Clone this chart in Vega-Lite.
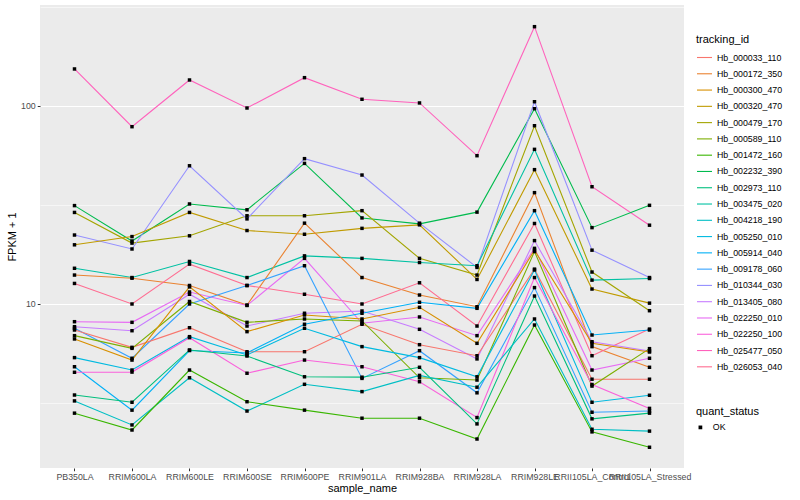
{
"$schema": "https://vega.github.io/schema/vega-lite/v6.json",
"width": 644, "height": 463,
"autosize": {"type": "none"},
"padding": {"left": 40, "top": 5, "right": 116, "bottom": 32},
"background": "white",
"config": {
  "font": "Liberation Sans",
  "view": {"fill": "#EBEBEB", "stroke": null},
  "axis": {"domain": false, "gridColor": "white", "tickColor": "#333333", "tickSize": 2.75, "labelColor": "#4D4D4D", "labelFontSize": 8.8, "titleFontSize": 11, "titleFontWeight": "normal", "titleColor": "black"},
  "legend": {"titleFontSize": 11, "titleFontWeight": "normal", "titleColor": "black", "labelFontSize": 8.8, "labelColor": "black", "padding": 0}
},
"data": {"values": [
{"tracking_id":"Hb_025477_050","sample_name":"PB350LA","FPKM":153.8,"quant_status":"OK"},
{"tracking_id":"Hb_025477_050","sample_name":"RRIM600LA","FPKM":78.6,"quant_status":"OK"},
{"tracking_id":"Hb_025477_050","sample_name":"RRIM600LE","FPKM":135.3,"quant_status":"OK"},
{"tracking_id":"Hb_025477_050","sample_name":"RRIM600SE","FPKM":97.7,"quant_status":"OK"},
{"tracking_id":"Hb_025477_050","sample_name":"RRIM600PE","FPKM":139.0,"quant_status":"OK"},
{"tracking_id":"Hb_025477_050","sample_name":"RRIM901LA","FPKM":108.1,"quant_status":"OK"},
{"tracking_id":"Hb_025477_050","sample_name":"RRIM928BA","FPKM":103.6,"quant_status":"OK"},
{"tracking_id":"Hb_025477_050","sample_name":"RRIM928LA","FPKM":56.1,"quant_status":"OK"},
{"tracking_id":"Hb_025477_050","sample_name":"RRIM928LE","FPKM":251.5,"quant_status":"OK"},
{"tracking_id":"Hb_025477_050","sample_name":"RRII105LA_Control","FPKM":39.1,"quant_status":"OK"},
{"tracking_id":"Hb_025477_050","sample_name":"RRII105LA_Stressed","FPKM":25.0,"quant_status":"OK"},
{"tracking_id":"Hb_002232_390","sample_name":"PB350LA","FPKM":31.4,"quant_status":"OK"},
{"tracking_id":"Hb_002232_390","sample_name":"RRIM600LA","FPKM":20.8,"quant_status":"OK"},
{"tracking_id":"Hb_002232_390","sample_name":"RRIM600LE","FPKM":32.0,"quant_status":"OK"},
{"tracking_id":"Hb_002232_390","sample_name":"RRIM600SE","FPKM":29.9,"quant_status":"OK"},
{"tracking_id":"Hb_002232_390","sample_name":"RRIM600PE","FPKM":51.3,"quant_status":"OK"},
{"tracking_id":"Hb_002232_390","sample_name":"RRIM901LA","FPKM":27.2,"quant_status":"OK"},
{"tracking_id":"Hb_002232_390","sample_name":"RRIM928BA","FPKM":25.4,"quant_status":"OK"},
{"tracking_id":"Hb_002232_390","sample_name":"RRIM928LA","FPKM":29.1,"quant_status":"OK"},
{"tracking_id":"Hb_002232_390","sample_name":"RRIM928LE","FPKM":96.9,"quant_status":"OK"},
{"tracking_id":"Hb_002232_390","sample_name":"RRII105LA_Control","FPKM":24.3,"quant_status":"OK"},
{"tracking_id":"Hb_002232_390","sample_name":"RRII105LA_Stressed","FPKM":31.5,"quant_status":"OK"},
{"tracking_id":"Hb_000479_170","sample_name":"PB350LA","FPKM":29.0,"quant_status":"OK"},
{"tracking_id":"Hb_000479_170","sample_name":"RRIM600LA","FPKM":20.3,"quant_status":"OK"},
{"tracking_id":"Hb_000479_170","sample_name":"RRIM600LE","FPKM":22.1,"quant_status":"OK"},
{"tracking_id":"Hb_000479_170","sample_name":"RRIM600SE","FPKM":27.9,"quant_status":"OK"},
{"tracking_id":"Hb_000479_170","sample_name":"RRIM600PE","FPKM":27.9,"quant_status":"OK"},
{"tracking_id":"Hb_000479_170","sample_name":"RRIM901LA","FPKM":29.6,"quant_status":"OK"},
{"tracking_id":"Hb_000479_170","sample_name":"RRIM928BA","FPKM":17.0,"quant_status":"OK"},
{"tracking_id":"Hb_000479_170","sample_name":"RRIM928LA","FPKM":14.0,"quant_status":"OK"},
{"tracking_id":"Hb_000479_170","sample_name":"RRIM928LE","FPKM":79.5,"quant_status":"OK"},
{"tracking_id":"Hb_000479_170","sample_name":"RRII105LA_Control","FPKM":14.5,"quant_status":"OK"},
{"tracking_id":"Hb_000479_170","sample_name":"RRII105LA_Stressed","FPKM":9.25,"quant_status":"OK"},
{"tracking_id":"Hb_010344_030","sample_name":"PB350LA","FPKM":22.3,"quant_status":"OK"},
{"tracking_id":"Hb_010344_030","sample_name":"RRIM600LA","FPKM":18.96,"quant_status":"OK"},
{"tracking_id":"Hb_010344_030","sample_name":"RRIM600LE","FPKM":49.9,"quant_status":"OK"},
{"tracking_id":"Hb_010344_030","sample_name":"RRIM600SE","FPKM":26.9,"quant_status":"OK"},
{"tracking_id":"Hb_010344_030","sample_name":"RRIM600PE","FPKM":54.2,"quant_status":"OK"},
{"tracking_id":"Hb_010344_030","sample_name":"RRIM901LA","FPKM":44.8,"quant_status":"OK"},
{"tracking_id":"Hb_010344_030","sample_name":"RRIM928BA","FPKM":25.6,"quant_status":"OK"},
{"tracking_id":"Hb_010344_030","sample_name":"RRIM928LA","FPKM":15.3,"quant_status":"OK"},
{"tracking_id":"Hb_010344_030","sample_name":"RRIM928LE","FPKM":105.1,"quant_status":"OK"},
{"tracking_id":"Hb_010344_030","sample_name":"RRII105LA_Control","FPKM":18.7,"quant_status":"OK"},
{"tracking_id":"Hb_010344_030","sample_name":"RRII105LA_Stressed","FPKM":13.6,"quant_status":"OK"},
{"tracking_id":"Hb_000320_470","sample_name":"PB350LA","FPKM":19.9,"quant_status":"OK"},
{"tracking_id":"Hb_000320_470","sample_name":"RRIM600LA","FPKM":21.9,"quant_status":"OK"},
{"tracking_id":"Hb_000320_470","sample_name":"RRIM600LE","FPKM":29.0,"quant_status":"OK"},
{"tracking_id":"Hb_000320_470","sample_name":"RRIM600SE","FPKM":23.5,"quant_status":"OK"},
{"tracking_id":"Hb_000320_470","sample_name":"RRIM600PE","FPKM":22.5,"quant_status":"OK"},
{"tracking_id":"Hb_000320_470","sample_name":"RRIM901LA","FPKM":24.1,"quant_status":"OK"},
{"tracking_id":"Hb_000320_470","sample_name":"RRIM928BA","FPKM":25.1,"quant_status":"OK"},
{"tracking_id":"Hb_000320_470","sample_name":"RRIM928LA","FPKM":13.3,"quant_status":"OK"},
{"tracking_id":"Hb_000320_470","sample_name":"RRIM928LE","FPKM":47.7,"quant_status":"OK"},
{"tracking_id":"Hb_000320_470","sample_name":"RRII105LA_Control","FPKM":11.9,"quant_status":"OK"},
{"tracking_id":"Hb_000320_470","sample_name":"RRII105LA_Stressed","FPKM":10.1,"quant_status":"OK"},
{"tracking_id":"Hb_003475_020","sample_name":"PB350LA","FPKM":15.15,"quant_status":"OK"},
{"tracking_id":"Hb_003475_020","sample_name":"RRIM600LA","FPKM":13.6,"quant_status":"OK"},
{"tracking_id":"Hb_003475_020","sample_name":"RRIM600LE","FPKM":16.4,"quant_status":"OK"},
{"tracking_id":"Hb_003475_020","sample_name":"RRIM600SE","FPKM":13.6,"quant_status":"OK"},
{"tracking_id":"Hb_003475_020","sample_name":"RRIM600PE","FPKM":17.5,"quant_status":"OK"},
{"tracking_id":"Hb_003475_020","sample_name":"RRIM901LA","FPKM":17.0,"quant_status":"OK"},
{"tracking_id":"Hb_003475_020","sample_name":"RRIM928BA","FPKM":16.2,"quant_status":"OK"},
{"tracking_id":"Hb_003475_020","sample_name":"RRIM928LA","FPKM":15.6,"quant_status":"OK"},
{"tracking_id":"Hb_003475_020","sample_name":"RRIM928LE","FPKM":60.4,"quant_status":"OK"},
{"tracking_id":"Hb_003475_020","sample_name":"RRII105LA_Control","FPKM":13.2,"quant_status":"OK"},
{"tracking_id":"Hb_003475_020","sample_name":"RRII105LA_Stressed","FPKM":13.45,"quant_status":"OK"},
{"tracking_id":"Hb_000172_350","sample_name":"PB350LA","FPKM":14.0,"quant_status":"OK"},
{"tracking_id":"Hb_000172_350","sample_name":"RRIM600LA","FPKM":13.5,"quant_status":"OK"},
{"tracking_id":"Hb_000172_350","sample_name":"RRIM600LE","FPKM":12.4,"quant_status":"OK"},
{"tracking_id":"Hb_000172_350","sample_name":"RRIM600SE","FPKM":9.88,"quant_status":"OK"},
{"tracking_id":"Hb_000172_350","sample_name":"RRIM600PE","FPKM":25.6,"quant_status":"OK"},
{"tracking_id":"Hb_000172_350","sample_name":"RRIM901LA","FPKM":13.6,"quant_status":"OK"},
{"tracking_id":"Hb_000172_350","sample_name":"RRIM928BA","FPKM":11.1,"quant_status":"OK"},
{"tracking_id":"Hb_000172_350","sample_name":"RRIM928LA","FPKM":9.69,"quant_status":"OK"},
{"tracking_id":"Hb_000172_350","sample_name":"RRIM928LE","FPKM":36.5,"quant_status":"OK"},
{"tracking_id":"Hb_000172_350","sample_name":"RRII105LA_Control","FPKM":6.09,"quant_status":"OK"},
{"tracking_id":"Hb_000172_350","sample_name":"RRII105LA_Stressed","FPKM":4.79,"quant_status":"OK"},
{"tracking_id":"Hb_026053_040","sample_name":"PB350LA","FPKM":12.7,"quant_status":"OK"},
{"tracking_id":"Hb_026053_040","sample_name":"RRIM600LA","FPKM":10.0,"quant_status":"OK"},
{"tracking_id":"Hb_026053_040","sample_name":"RRIM600LE","FPKM":15.9,"quant_status":"OK"},
{"tracking_id":"Hb_026053_040","sample_name":"RRIM600SE","FPKM":12.4,"quant_status":"OK"},
{"tracking_id":"Hb_026053_040","sample_name":"RRIM600PE","FPKM":11.2,"quant_status":"OK"},
{"tracking_id":"Hb_026053_040","sample_name":"RRIM901LA","FPKM":10.0,"quant_status":"OK"},
{"tracking_id":"Hb_026053_040","sample_name":"RRIM928BA","FPKM":12.8,"quant_status":"OK"},
{"tracking_id":"Hb_026053_040","sample_name":"RRIM928LA","FPKM":7.74,"quant_status":"OK"},
{"tracking_id":"Hb_026053_040","sample_name":"RRIM928LE","FPKM":25.5,"quant_status":"OK"},
{"tracking_id":"Hb_026053_040","sample_name":"RRII105LA_Control","FPKM":5.48,"quant_status":"OK"},
{"tracking_id":"Hb_026053_040","sample_name":"RRII105LA_Stressed","FPKM":7.47,"quant_status":"OK"},
{"tracking_id":"Hb_022250_010","sample_name":"PB350LA","FPKM":8.14,"quant_status":"OK"},
{"tracking_id":"Hb_022250_010","sample_name":"RRIM600LA","FPKM":8.08,"quant_status":"OK"},
{"tracking_id":"Hb_022250_010","sample_name":"RRIM600LE","FPKM":11.5,"quant_status":"OK"},
{"tracking_id":"Hb_022250_010","sample_name":"RRIM600SE","FPKM":9.83,"quant_status":"OK"},
{"tracking_id":"Hb_022250_010","sample_name":"RRIM600PE","FPKM":17.0,"quant_status":"OK"},
{"tracking_id":"Hb_022250_010","sample_name":"RRIM901LA","FPKM":7.99,"quant_status":"OK"},
{"tracking_id":"Hb_022250_010","sample_name":"RRIM928BA","FPKM":8.6,"quant_status":"OK"},
{"tracking_id":"Hb_022250_010","sample_name":"RRIM928LA","FPKM":6.92,"quant_status":"OK"},
{"tracking_id":"Hb_022250_010","sample_name":"RRIM928LE","FPKM":19.1,"quant_status":"OK"},
{"tracking_id":"Hb_022250_010","sample_name":"RRII105LA_Control","FPKM":4.64,"quant_status":"OK"},
{"tracking_id":"Hb_022250_010","sample_name":"RRII105LA_Stressed","FPKM":5.32,"quant_status":"OK"},
{"tracking_id":"Hb_013405_080","sample_name":"PB350LA","FPKM":7.68,"quant_status":"OK"},
{"tracking_id":"Hb_013405_080","sample_name":"RRIM600LA","FPKM":7.33,"quant_status":"OK"},
{"tracking_id":"Hb_013405_080","sample_name":"RRIM600LE","FPKM":11.2,"quant_status":"OK"},
{"tracking_id":"Hb_013405_080","sample_name":"RRIM600SE","FPKM":7.74,"quant_status":"OK"},
{"tracking_id":"Hb_013405_080","sample_name":"RRIM600PE","FPKM":8.98,"quant_status":"OK"},
{"tracking_id":"Hb_013405_080","sample_name":"RRIM901LA","FPKM":9.22,"quant_status":"OK"},
{"tracking_id":"Hb_013405_080","sample_name":"RRIM928BA","FPKM":7.45,"quant_status":"OK"},
{"tracking_id":"Hb_013405_080","sample_name":"RRIM928LA","FPKM":5.28,"quant_status":"OK"},
{"tracking_id":"Hb_013405_080","sample_name":"RRIM928LE","FPKM":20.9,"quant_status":"OK"},
{"tracking_id":"Hb_013405_080","sample_name":"RRII105LA_Control","FPKM":6.45,"quant_status":"OK"},
{"tracking_id":"Hb_013405_080","sample_name":"RRII105LA_Stressed","FPKM":5.79,"quant_status":"OK"},
{"tracking_id":"Hb_009178_060","sample_name":"PB350LA","FPKM":7.54,"quant_status":"OK"},
{"tracking_id":"Hb_009178_060","sample_name":"RRIM600LA","FPKM":5.32,"quant_status":"OK"},
{"tracking_id":"Hb_009178_060","sample_name":"RRIM600LE","FPKM":10.0,"quant_status":"OK"},
{"tracking_id":"Hb_009178_060","sample_name":"RRIM600SE","FPKM":12.4,"quant_status":"OK"},
{"tracking_id":"Hb_009178_060","sample_name":"RRIM600PE","FPKM":15.6,"quant_status":"OK"},
{"tracking_id":"Hb_009178_060","sample_name":"RRIM901LA","FPKM":4.21,"quant_status":"OK"},
{"tracking_id":"Hb_009178_060","sample_name":"RRIM928BA","FPKM":5.81,"quant_status":"OK"},
{"tracking_id":"Hb_009178_060","sample_name":"RRIM928LA","FPKM":3.56,"quant_status":"OK"},
{"tracking_id":"Hb_009178_060","sample_name":"RRIM928LE","FPKM":12.1,"quant_status":"OK"},
{"tracking_id":"Hb_009178_060","sample_name":"RRII105LA_Control","FPKM":2.84,"quant_status":"OK"},
{"tracking_id":"Hb_009178_060","sample_name":"RRII105LA_Stressed","FPKM":2.88,"quant_status":"OK"},
{"tracking_id":"Hb_000033_110","sample_name":"PB350LA","FPKM":7.39,"quant_status":"OK"},
{"tracking_id":"Hb_000033_110","sample_name":"RRIM600LA","FPKM":6.04,"quant_status":"OK"},
{"tracking_id":"Hb_000033_110","sample_name":"RRIM600LE","FPKM":7.59,"quant_status":"OK"},
{"tracking_id":"Hb_000033_110","sample_name":"RRIM600SE","FPKM":5.74,"quant_status":"OK"},
{"tracking_id":"Hb_000033_110","sample_name":"RRIM600PE","FPKM":5.74,"quant_status":"OK"},
{"tracking_id":"Hb_000033_110","sample_name":"RRIM901LA","FPKM":7.9,"quant_status":"OK"},
{"tracking_id":"Hb_000033_110","sample_name":"RRIM928BA","FPKM":6.23,"quant_status":"OK"},
{"tracking_id":"Hb_000033_110","sample_name":"RRIM928LA","FPKM":5.48,"quant_status":"OK"},
{"tracking_id":"Hb_000033_110","sample_name":"RRIM928LE","FPKM":15.0,"quant_status":"OK"},
{"tracking_id":"Hb_000033_110","sample_name":"RRII105LA_Control","FPKM":4.17,"quant_status":"OK"},
{"tracking_id":"Hb_000033_110","sample_name":"RRII105LA_Stressed","FPKM":4.17,"quant_status":"OK"},
{"tracking_id":"Hb_000589_110","sample_name":"PB350LA","FPKM":6.92,"quant_status":"OK"},
{"tracking_id":"Hb_000589_110","sample_name":"RRIM600LA","FPKM":5.97,"quant_status":"OK"},
{"tracking_id":"Hb_000589_110","sample_name":"RRIM600LE","FPKM":10.3,"quant_status":"OK"},
{"tracking_id":"Hb_000589_110","sample_name":"RRIM600SE","FPKM":8.08,"quant_status":"OK"},
{"tracking_id":"Hb_000589_110","sample_name":"RRIM600PE","FPKM":8.4,"quant_status":"OK"},
{"tracking_id":"Hb_000589_110","sample_name":"RRIM901LA","FPKM":8.21,"quant_status":"OK"},
{"tracking_id":"Hb_000589_110","sample_name":"RRIM928BA","FPKM":4.24,"quant_status":"OK"},
{"tracking_id":"Hb_000589_110","sample_name":"RRIM928LA","FPKM":4.13,"quant_status":"OK"},
{"tracking_id":"Hb_000589_110","sample_name":"RRIM928LE","FPKM":18.4,"quant_status":"OK"},
{"tracking_id":"Hb_000589_110","sample_name":"RRII105LA_Control","FPKM":3.85,"quant_status":"OK"},
{"tracking_id":"Hb_000589_110","sample_name":"RRII105LA_Stressed","FPKM":5.95,"quant_status":"OK"},
{"tracking_id":"Hb_000300_470","sample_name":"PB350LA","FPKM":6.66,"quant_status":"OK"},
{"tracking_id":"Hb_000300_470","sample_name":"RRIM600LA","FPKM":5.21,"quant_status":"OK"},
{"tracking_id":"Hb_000300_470","sample_name":"RRIM600LE","FPKM":12.2,"quant_status":"OK"},
{"tracking_id":"Hb_000300_470","sample_name":"RRIM600SE","FPKM":7.25,"quant_status":"OK"},
{"tracking_id":"Hb_000300_470","sample_name":"RRIM600PE","FPKM":8.8,"quant_status":"OK"},
{"tracking_id":"Hb_000300_470","sample_name":"RRIM901LA","FPKM":8.4,"quant_status":"OK"},
{"tracking_id":"Hb_000300_470","sample_name":"RRIM928BA","FPKM":9.62,"quant_status":"OK"},
{"tracking_id":"Hb_000300_470","sample_name":"RRIM928LA","FPKM":6.33,"quant_status":"OK"},
{"tracking_id":"Hb_000300_470","sample_name":"RRIM928LE","FPKM":18.7,"quant_status":"OK"},
{"tracking_id":"Hb_000300_470","sample_name":"RRII105LA_Control","FPKM":6.33,"quant_status":"OK"},
{"tracking_id":"Hb_000300_470","sample_name":"RRII105LA_Stressed","FPKM":5.72,"quant_status":"OK"},
{"tracking_id":"Hb_005250_010","sample_name":"PB350LA","FPKM":5.36,"quant_status":"OK"},
{"tracking_id":"Hb_005250_010","sample_name":"RRIM600LA","FPKM":4.64,"quant_status":"OK"},
{"tracking_id":"Hb_005250_010","sample_name":"RRIM600LE","FPKM":6.84,"quant_status":"OK"},
{"tracking_id":"Hb_005250_010","sample_name":"RRIM600SE","FPKM":5.53,"quant_status":"OK"},
{"tracking_id":"Hb_005250_010","sample_name":"RRIM600PE","FPKM":7.54,"quant_status":"OK"},
{"tracking_id":"Hb_005250_010","sample_name":"RRIM901LA","FPKM":6.09,"quant_status":"OK"},
{"tracking_id":"Hb_005250_010","sample_name":"RRIM928BA","FPKM":5.36,"quant_status":"OK"},
{"tracking_id":"Hb_005250_010","sample_name":"RRIM928LA","FPKM":4.29,"quant_status":"OK"},
{"tracking_id":"Hb_005250_010","sample_name":"RRIM928LE","FPKM":14.85,"quant_status":"OK"},
{"tracking_id":"Hb_005250_010","sample_name":"RRII105LA_Control","FPKM":3.19,"quant_status":"OK"},
{"tracking_id":"Hb_005250_010","sample_name":"RRII105LA_Stressed","FPKM":3.46,"quant_status":"OK"},
{"tracking_id":"Hb_005914_040","sample_name":"PB350LA","FPKM":4.82,"quant_status":"OK"},
{"tracking_id":"Hb_005914_040","sample_name":"RRIM600LA","FPKM":2.91,"quant_status":"OK"},
{"tracking_id":"Hb_005914_040","sample_name":"RRIM600LE","FPKM":5.82,"quant_status":"OK"},
{"tracking_id":"Hb_005914_040","sample_name":"RRIM600SE","FPKM":5.66,"quant_status":"OK"},
{"tracking_id":"Hb_005914_040","sample_name":"RRIM600PE","FPKM":7.9,"quant_status":"OK"},
{"tracking_id":"Hb_005914_040","sample_name":"RRIM901LA","FPKM":8.98,"quant_status":"OK"},
{"tracking_id":"Hb_005914_040","sample_name":"RRIM928BA","FPKM":10.2,"quant_status":"OK"},
{"tracking_id":"Hb_005914_040","sample_name":"RRIM928LA","FPKM":9.51,"quant_status":"OK"},
{"tracking_id":"Hb_005914_040","sample_name":"RRIM928LE","FPKM":29.6,"quant_status":"OK"},
{"tracking_id":"Hb_005914_040","sample_name":"RRII105LA_Control","FPKM":6.97,"quant_status":"OK"},
{"tracking_id":"Hb_005914_040","sample_name":"RRII105LA_Stressed","FPKM":7.39,"quant_status":"OK"},
{"tracking_id":"Hb_022250_100","sample_name":"PB350LA","FPKM":4.52,"quant_status":"OK"},
{"tracking_id":"Hb_022250_100","sample_name":"RRIM600LA","FPKM":4.53,"quant_status":"OK"},
{"tracking_id":"Hb_022250_100","sample_name":"RRIM600LE","FPKM":6.76,"quant_status":"OK"},
{"tracking_id":"Hb_022250_100","sample_name":"RRIM600SE","FPKM":4.47,"quant_status":"OK"},
{"tracking_id":"Hb_022250_100","sample_name":"RRIM600PE","FPKM":5.21,"quant_status":"OK"},
{"tracking_id":"Hb_022250_100","sample_name":"RRIM901LA","FPKM":4.82,"quant_status":"OK"},
{"tracking_id":"Hb_022250_100","sample_name":"RRIM928BA","FPKM":4.05,"quant_status":"OK"},
{"tracking_id":"Hb_022250_100","sample_name":"RRIM928LA","FPKM":2.67,"quant_status":"OK"},
{"tracking_id":"Hb_022250_100","sample_name":"RRIM928LE","FPKM":13.6,"quant_status":"OK"},
{"tracking_id":"Hb_022250_100","sample_name":"RRII105LA_Control","FPKM":3.92,"quant_status":"OK"},
{"tracking_id":"Hb_022250_100","sample_name":"RRII105LA_Stressed","FPKM":2.97,"quant_status":"OK"},
{"tracking_id":"Hb_002973_110","sample_name":"PB350LA","FPKM":3.47,"quant_status":"OK"},
{"tracking_id":"Hb_002973_110","sample_name":"RRIM600LA","FPKM":3.19,"quant_status":"OK"},
{"tracking_id":"Hb_002973_110","sample_name":"RRIM600LE","FPKM":5.86,"quant_status":"OK"},
{"tracking_id":"Hb_002973_110","sample_name":"RRIM600SE","FPKM":5.46,"quant_status":"OK"},
{"tracking_id":"Hb_002973_110","sample_name":"RRIM600PE","FPKM":4.29,"quant_status":"OK"},
{"tracking_id":"Hb_002973_110","sample_name":"RRIM901LA","FPKM":4.27,"quant_status":"OK"},
{"tracking_id":"Hb_002973_110","sample_name":"RRIM928BA","FPKM":4.79,"quant_status":"OK"},
{"tracking_id":"Hb_002973_110","sample_name":"RRIM928LA","FPKM":2.48,"quant_status":"OK"},
{"tracking_id":"Hb_002973_110","sample_name":"RRIM928LE","FPKM":10.97,"quant_status":"OK"},
{"tracking_id":"Hb_002973_110","sample_name":"RRII105LA_Control","FPKM":2.63,"quant_status":"OK"},
{"tracking_id":"Hb_002973_110","sample_name":"RRII105LA_Stressed","FPKM":2.81,"quant_status":"OK"},
{"tracking_id":"Hb_004218_190","sample_name":"PB350LA","FPKM":3.24,"quant_status":"OK"},
{"tracking_id":"Hb_004218_190","sample_name":"RRIM600LA","FPKM":2.45,"quant_status":"OK"},
{"tracking_id":"Hb_004218_190","sample_name":"RRIM600LE","FPKM":4.24,"quant_status":"OK"},
{"tracking_id":"Hb_004218_190","sample_name":"RRIM600SE","FPKM":2.88,"quant_status":"OK"},
{"tracking_id":"Hb_004218_190","sample_name":"RRIM600PE","FPKM":3.93,"quant_status":"OK"},
{"tracking_id":"Hb_004218_190","sample_name":"RRIM901LA","FPKM":3.61,"quant_status":"OK"},
{"tracking_id":"Hb_004218_190","sample_name":"RRIM928BA","FPKM":4.36,"quant_status":"OK"},
{"tracking_id":"Hb_004218_190","sample_name":"RRIM928LA","FPKM":3.8,"quant_status":"OK"},
{"tracking_id":"Hb_004218_190","sample_name":"RRIM928LE","FPKM":8.4,"quant_status":"OK"},
{"tracking_id":"Hb_004218_190","sample_name":"RRII105LA_Control","FPKM":2.33,"quant_status":"OK"},
{"tracking_id":"Hb_004218_190","sample_name":"RRII105LA_Stressed","FPKM":2.28,"quant_status":"OK"},
{"tracking_id":"Hb_001472_160","sample_name":"PB350LA","FPKM":2.81,"quant_status":"OK"},
{"tracking_id":"Hb_001472_160","sample_name":"RRIM600LA","FPKM":2.31,"quant_status":"OK"},
{"tracking_id":"Hb_001472_160","sample_name":"RRIM600LE","FPKM":4.64,"quant_status":"OK"},
{"tracking_id":"Hb_001472_160","sample_name":"RRIM600SE","FPKM":3.21,"quant_status":"OK"},
{"tracking_id":"Hb_001472_160","sample_name":"RRIM600PE","FPKM":2.91,"quant_status":"OK"},
{"tracking_id":"Hb_001472_160","sample_name":"RRIM901LA","FPKM":2.65,"quant_status":"OK"},
{"tracking_id":"Hb_001472_160","sample_name":"RRIM928BA","FPKM":2.65,"quant_status":"OK"},
{"tracking_id":"Hb_001472_160","sample_name":"RRIM928LA","FPKM":2.08,"quant_status":"OK"},
{"tracking_id":"Hb_001472_160","sample_name":"RRIM928LE","FPKM":7.83,"quant_status":"OK"},
{"tracking_id":"Hb_001472_160","sample_name":"RRII105LA_Control","FPKM":2.26,"quant_status":"OK"},
{"tracking_id":"Hb_001472_160","sample_name":"RRII105LA_Stressed","FPKM":1.89,"quant_status":"OK"}
]},
"encoding": {
  "x": {"field": "sample_name", "type": "ordinal",
        "sort": ["PB350LA","RRIM600LA","RRIM600LE","RRIM600SE","RRIM600PE","RRIM901LA","RRIM928BA","RRIM928LA","RRIM928LE","RRII105LA_Control","RRII105LA_Stressed"],
        "scale": {"type": "point", "padding": 0.6},
        "axis": {"title": "sample_name", "labelAngle": 0, "labelOverlap": false, "labelBound": false, "labelFlush": false, "gridWidth": 1.1, "labelPadding": 2, "titlePadding": 1}},
  "y": {"field": "FPKM", "type": "quantitative",
        "scale": {"type": "log", "domain": [1.485, 323.6], "nice": false},
        "axis": {"title": "FPKM + 1", "values": [3.1623, 10, 31.623, 100, 316.23],
                 "labelExpr": "(datum.value == 10 || datum.value == 100) ? format(datum.value, 'd') : ''",
                 "gridWidth": {"condition": {"test": "datum.value == 10 || datum.value == 100", "value": 1.1}, "value": 0.55},
                 "tickOpacity": {"condition": {"test": "datum.value == 10 || datum.value == 100", "value": 1}, "value": 0},
                 "labelPadding": 2, "titlePadding": 3}}
},
"layer": [
  {"mark": {"type": "line", "strokeWidth": 1.1},
   "encoding": {
     "color": {"field": "tracking_id", "type": "nominal",
       "scale": {"domain": ["Hb_000033_110","Hb_000172_350","Hb_000300_470","Hb_000320_470","Hb_000479_170","Hb_000589_110","Hb_001472_160","Hb_002232_390","Hb_002973_110","Hb_003475_020","Hb_004218_190","Hb_005250_010","Hb_005914_040","Hb_009178_060","Hb_010344_030","Hb_013405_080","Hb_022250_010","Hb_022250_100","Hb_025477_050","Hb_026053_040"],
                 "range": ["#F8766D","#EA8331","#D89000","#C09B00","#A3A500","#7CAE00","#39B600","#00BB4E","#00BF7D","#00C1A3","#00BFC4","#00BAE0","#00B0F6","#35A2FF","#9590FF","#C77CFF","#E76BF3","#FA62DB","#FF62BC","#FF6C91"]},
       "legend": {"title": "tracking_id", "orient": "none", "legendX": 656, "legendY": 29, "symbolType": "stroke", "symbolSize": 225, "symbolStrokeWidth": 1.1, "rowPadding": 2.28, "labelOffset": 4, "titlePadding": 4}}
   }},
  {"mark": {"type": "point", "filled": true, "color": "black", "size": 12, "opacity": 1},
   "encoding": {
     "shape": {"field": "quant_status", "type": "nominal", "scale": {"range": ["square"]},
       "legend": {"title": "quant_status", "orient": "none", "legendX": 656, "legendY": 401, "symbolSize": 14, "symbolFillColor": "black", "symbolStrokeColor": "black", "labelOffset": 8, "titlePadding": 6}}
   }}
]
}
